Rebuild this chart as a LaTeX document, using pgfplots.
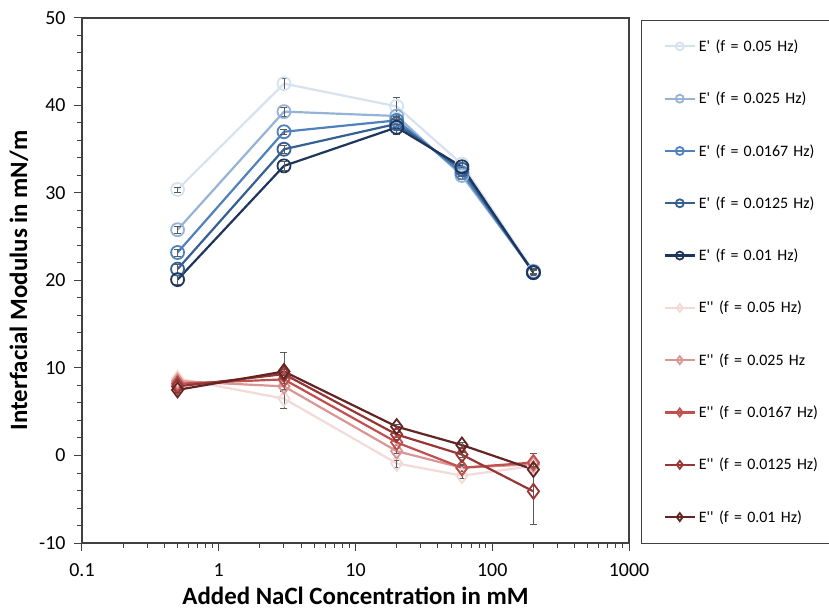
\documentclass[border=0pt]{standalone}
\usepackage{fontspec}
\setmainfont{Carlito}[Ligatures=TeXOff]
\usepackage{pgfplots}
\pgfplotsset{compat=1.18}

% blues for E', reds for E''
\definecolor{b1}{RGB}{214,226,240}
\definecolor{b2}{RGB}{149,179,215}
\definecolor{b3}{RGB}{79,129,189}
\definecolor{b4}{RGB}{54,96,146}
\definecolor{b5}{RGB}{30,54,92}
\definecolor{r1}{RGB}{242,218,217}
\definecolor{r2}{RGB}{217,150,148}
\definecolor{r3}{RGB}{192,80,77}
\definecolor{r4}{RGB}{150,55,53}
\definecolor{r5}{RGB}{99,37,35}

\pgfplotsset{
  ep/.style={color=#1, line width=2.2bp, mark=o, mark size=6.5bp,
    mark options={line width=1.8bp, solid}},
  epp/.style={color=#1, line width=2.2bp, mark=diamond, mark size=7.5bp,
    mark options={line width=1.8bp, solid}},
  errb/.style={error bars/.cd, y dir=both, y explicit,
    error bar style={line width=0.7bp, black!65},
    error mark options={rotate=90, mark size=3.5bp, line width=0.7bp, black!65}},
}

\begin{document}
\begin{tikzpicture}
\begin{axis}[
  scale only axis,
  width=547bp, height=525bp,
  xmode=log, xmin=0.1, xmax=1000,
  ymin=-10, ymax=50,
  xtick={0.1,1,10,100,1000}, xticklabels={0.1,1,10,100,1000},
  minor xtick={0.2,0.3,0.4,0.5,0.6,0.7,0.8,0.9,2,3,4,5,6,7,8,9,
    20,30,40,50,60,70,80,90,200,300,400,500,600,700,800,900},
  ytick={-10,0,10,20,30,40,50}, yticklabels={-10,0,10,20,30,40,50},
  minor y tick num=4,
  tick pos=left, tick align=outside,
  major tick length=8bp, minor tick length=5bp,
  axis line style={line width=1.3bp, black!75},
  every tick/.style={black!75, line width=1bp},
  ticklabel style={font=\fontsize{20}{24}\selectfont},
  x tick label style={yshift=-9bp},
  y tick label style={xshift=-5bp},
  xlabel={Added NaCl Concentration in mM},
  ylabel={Interfacial Modulus in mN/m},
  label style={font=\fontsize{25}{30}\selectfont\bfseries},
  xlabel style={yshift=-4bp},
  ylabel style={yshift=4bp},
  legend style={at={(1.022,0.997)}, anchor=north west, draw=black!75,
    line width=1.3bp,
    inner sep=0pt, row sep=0pt, column sep=0pt,
    nodes={font=\fontsize{16}{19}\selectfont, minimum height=52.3bp,
      text width=129bp, inner xsep=3bp}},
  legend cell align=left,
  legend image code/.code={
    \path (-22bp,0bp);
    \draw[mark repeat=2, mark phase=2, #1, mark size=4bp]
      plot coordinates {(0bp,0bp) (15bp,0bp) (30bp,0bp)};},
]

\addplot[ep=b1, errb] coordinates {
  (0.5,30.4) +- (0,0.3) (3,42.5) +- (0,0.6) (20,39.9) +- (0,1.0)
  (60,33.3) +- (0,0.4) (200,21.1) +- (0,0.3)};
\addlegendentry{E' (f = 0.05 Hz)}
\addplot[ep=b2, errb] coordinates {
  (0.5,25.8) +- (0,0.4) (3,39.3) +- (0,0.5) (20,38.8) +- (0,0.6)
  (60,32.0) +- (0,0.4) (200,21.0) +- (0,0.3)};
\addlegendentry{E' (f = 0.025 Hz)}
\addplot[ep=b3, errb] coordinates {
  (0.5,23.2) +- (0,0.4) (3,37.0) +- (0,0.3) (20,38.3) +- (0,0.5)
  (60,32.3) +- (0,0.4) (200,21.0) +- (0,0.3)};
\addlegendentry{E' (f = 0.0167 Hz)}
\addplot[ep=b4, errb] coordinates {
  (0.5,21.3) +- (0,0.5) (3,35.0) +- (0,0.5) (20,37.9) +- (0,0.5)
  (60,32.7) +- (0,0.4) (200,20.9) +- (0,0.3)};
\addlegendentry{E' (f = 0.0125 Hz)}
\addplot[ep=b5, errb] coordinates {
  (0.5,20.1) +- (0,0.5) (3,33.1) +- (0,0.5) (20,37.5) +- (0,0.8)
  (60,33.0) +- (0,0.4) (200,20.9) +- (0,0.3)};
\addlegendentry{E' (f = 0.01 Hz)}

\addplot[epp=r1, errb] coordinates {
  (0.5,8.8) +- (0,0.3) (3,6.5) +- (0,1.1) (20,-0.9) +- (0,0.4)
  (60,-2.3) +- (0,0.3) (200,-1.2) +- (0,0.3)};
\addlegendentry{E'' (f = 0.05 Hz)}
\addplot[epp=r2, errb] coordinates {
  (0.5,8.5) +- (0,0.3) (3,7.9) +- (0,0.6) (20,0.5) +- (0,0.3)
  (60,-1.4) +- (0,0.3) (200,-1.0) +- (0,0.3)};
\addlegendentry{E'' (f = 0.025 Hz}
\addplot[epp=r3, errb] coordinates {
  (0.5,8.2) +- (0,0.3) (3,8.7) +- (0,0.5) (20,1.5) +- (0,0.3)
  (60,-1.4) +- (0,0.4) (200,-0.8) +- (0,1.1)};
\addlegendentry{E'' (f = 0.0167 Hz)}
\addplot[epp=r4, errb] coordinates {
  (0.5,7.9) +- (0,0.3) (3,9.3) +- (0,0.5) (20,2.4) +- (0,0.3)
  (60,0.1) +- (0,0.3) (200,-4.1) +- (0,3.8)};
\addlegendentry{E'' (f = 0.0125 Hz)}
\addplot[epp=r5, errb] coordinates {
  (0.5,7.5) +- (0,0.3) (3,9.6) +- (0,2.2) (20,3.3) +- (0,0.3)
  (60,1.2) +- (0,0.3) (200,-1.6) +- (0,0.4)};
\addlegendentry{E'' (f = 0.01 Hz)}

\end{axis}
\pgfresetboundingbox
\path[use as bounding box] (-82bp,-67bp) rectangle (747bp,543bp);
\end{tikzpicture}
\end{document}
